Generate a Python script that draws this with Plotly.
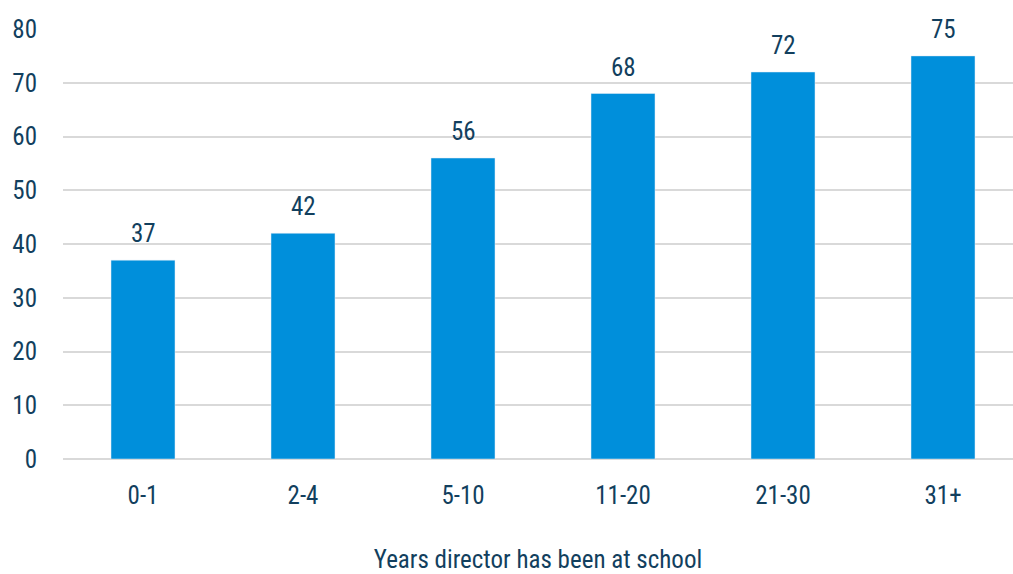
import plotly.graph_objects as go

categories = ["0-1", "2-4", "5-10", "11-20", "21-30", "31+"]
values = [37, 42, 56, 68, 72, 75]
y_ticks = [0, 10, 20, 30, 40, 50, 60, 70, 80]

FONT = "Roboto Condensed, Liberation Sans Narrow, Arial Narrow, sans-serif"
TXT = "#123F5E"

xs = list(range(len(categories)))
fig = go.Figure(go.Bar(
    x=xs, y=values,
    marker=dict(color="#008FDB"), width=0.4,
))
for x, v in zip(xs, values):
    fig.add_annotation(x=x, y=v, text=str(v), showarrow=False, yanchor="bottom",
                       yshift=10, font=dict(family=FONT, size=25, color=TXT))
fig.update_layout(
    width=1013, height=574, margin=dict(l=63, r=0, t=29, b=115),
    plot_bgcolor="white", paper_bgcolor="white", showlegend=False,
    font=dict(family=FONT, size=25, color=TXT),
    xaxis=dict(tickmode="array", tickvals=xs, ticktext=categories,
               range=[-0.5, 5.4375], showgrid=False, showline=False, zeroline=False,
               ticks="outside", ticklen=14, tickcolor="rgba(0,0,0,0)",
               title=dict(text="Years director has been at school", standoff=42, font=dict(size=25)),
               tickfont=dict(size=25)),
    yaxis=dict(range=[0, 80], tickvals=y_ticks, showgrid=True, gridcolor="#D9D9D9", gridwidth=1.5,
               zeroline=True, zerolinecolor="#D9D9D9", zerolinewidth=1.5, showline=False,
               ticks="outside", ticklen=20, tickcolor="rgba(0,0,0,0)", tickfont=dict(size=25)),
)
fig.write_html("out.html")
